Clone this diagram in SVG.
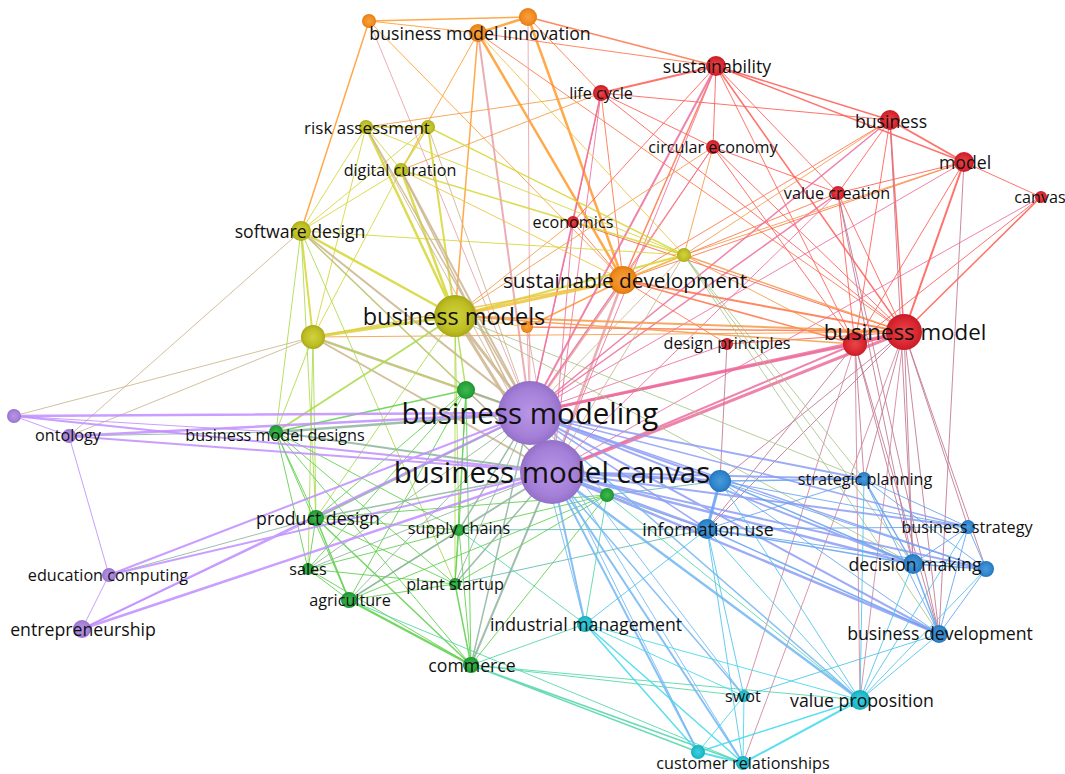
<svg xmlns="http://www.w3.org/2000/svg" width="1065" height="774" viewBox="0 0 1065 774">
<style>
  .e { fill: none; stroke-linecap: round; stroke-opacity: 0.85; }
  .o { stroke: #ff9a2a; } .ro { stroke: #ff7346; } .op { stroke: #e8a0a8; }
  .r { stroke: #ff5a52; } .rp { stroke: #ec6d9c; } .ry { stroke: #f59a45; }
  .rb { stroke: #c0768e; } .rc { stroke: #d0849a; }
  .y { stroke: #d6d635; } .yp { stroke: #cdb48e; } .yo { stroke: #efc23e; }
  .yg { stroke: #a9db4a; } .yb { stroke: #a9c48c; }
  .g { stroke: #5ccf48; } .gp { stroke: #8db49c; } .gc { stroke: #4fd6a6; } .gb { stroke: #5fb8b0; }
  .p { stroke: #bf8dff; } .bp { stroke: #8d9cf5; } .cp { stroke: #72b6f2; }
  .b { stroke: #62a2f0; } .bc { stroke: #4cc2ec; } .c { stroke: #3ed8ea; }
  .n circle { stroke: none; }
  text { font-family: "Open Sans", "DejaVu Sans", sans-serif; fill: #111; text-anchor: middle; dominant-baseline: central; }
  .t1 { font-size: 16.2px; } .t2 { font-size: 17.7px; } .t3 { font-size: 20.8px; }
  .t4 { font-size: 22.3px; } .t5 { font-size: 23.5px; } .t6 { font-size: 29.5px; }
</style>
<defs>
  <radialGradient id="gRed"><stop offset="0" stop-color="#e8464a"/><stop offset="0.75" stop-color="#d9252f"/><stop offset="1" stop-color="#c41d28"/></radialGradient>
  <radialGradient id="gOra"><stop offset="0" stop-color="#f9a040"/><stop offset="0.75" stop-color="#f08a1e"/><stop offset="1" stop-color="#de7a14"/></radialGradient>
  <radialGradient id="gOli"><stop offset="0" stop-color="#d2d240"/><stop offset="0.75" stop-color="#bdbd22"/><stop offset="1" stop-color="#a8a818"/></radialGradient>
  <radialGradient id="gGre"><stop offset="0" stop-color="#3fb84e"/><stop offset="0.75" stop-color="#26a23a"/><stop offset="1" stop-color="#1b8e2e"/></radialGradient>
  <radialGradient id="gPur"><stop offset="0" stop-color="#b896e6"/><stop offset="0.75" stop-color="#a47fd8"/><stop offset="1" stop-color="#9370c8"/></radialGradient>
  <radialGradient id="gBlu"><stop offset="0" stop-color="#4b9ad8"/><stop offset="0.75" stop-color="#2e84cc"/><stop offset="1" stop-color="#2474b8"/></radialGradient>
  <radialGradient id="gCya"><stop offset="0" stop-color="#40cede"/><stop offset="0.75" stop-color="#1dbccc"/><stop offset="1" stop-color="#15a8b8"/></radialGradient>
</defs>
<rect width="1065" height="774" fill="#ffffff"/>

<!-- links -->
<g id="connectors">
  <path class="e o" stroke-width="1" d="M369 21L478 33M369 21L623 280M478 33L401 170"/>
  <path class="e o" stroke-width="1.5" d="M369 21L528 17M369 21L301 231M478 33L455 316M623 280L527 327"/>
  <path class="e o" stroke-width="2.5" d="M528 17L478 33M528 17L623 280M478 33L623 280"/>
  <path class="e ro" stroke-width="1" d="M528 17L601 93M478 33L716 66M478 33L904 332M601 93L623 280M713 147L623 280M890 120L623 280M964 162L623 280M838 193L623 280M573 222L623 280M727 344L623 280"/>
  <path class="e ro" stroke-width="1.5" d="M528 17L716 66M716 66L623 280M855 344L623 280M527 327L904 332"/>
  <path class="e ro" stroke-width="2" d="M904 332L623 280"/>
  <path class="e op" stroke-width="1" d="M369 21L530 413M528 17L530 413M527 327L530 413M527 327L552 472"/>
  <path class="e op" stroke-width="2" d="M478 33L530 413"/>
  <path class="e op" stroke-width="2.5" d="M623 280L552 472"/>
  <path class="e op" stroke-width="3" d="M623 280L530 413"/>

  <path class="e r" stroke-width="1" d="M716 66L713 147M716 66L855 344M716 66L573 222M716 66L838 193M601 93L713 147M601 93L890 120M601 93L904 332M601 93L573 222M713 147L904 332M713 147L855 344M713 147L838 193M890 120L855 344M890 120L838 193M964 162L1041 197M964 162L855 344M964 162L838 193M1041 197L855 344M838 193L904 332M838 193L855 344M573 222L904 332M727 344L904 332"/>
  <path class="e r" stroke-width="1.5" d="M716 66L890 120M716 66L964 162M716 66L904 332M890 120L904 332M1041 197L904 332"/>
  <path class="e r" stroke-width="2" d="M716 66L601 93M890 120L964 162M964 162L904 332"/>
  <path class="e r" stroke-width="3" d="M904 332L855 344"/>
  <path class="e rp" stroke-width="1" d="M716 66L552 472M601 93L552 472M713 147L530 413M964 162L530 413M1041 197L552 472M573 222L530 413M573 222L552 472M727 344L530 413M838 193L552 472"/>
  <path class="e rp" stroke-width="1.5" d="M601 93L530 413M890 120L530 413M838 193L530 413"/>
  <path class="e rp" stroke-width="2" d="M716 66L530 413M855 344L552 472"/>
  <path class="e rp" stroke-width="2.5" d="M855 344L530 413"/>
  <path class="e rp" stroke-width="3" d="M904 332L530 413M904 332L552 472"/>
  <path class="e ry" stroke-width="1" d="M601 93L366 127M601 93L401 170M713 147L455 316M713 147L684 255M890 120L684 255M964 162L684 255M573 222L455 316M904 332L313 337M855 344L684 255"/>
  <path class="e ry" stroke-width="1.5" d="M855 344L455 316M904 332L684 255"/>
  <path class="e ry" stroke-width="2" d="M904 332L455 316"/>
  <path class="e rb" stroke-width="1" d="M727 344L720 481M904 332L864 479M904 332L913 564M904 332L939 634M904 332L968 527M904 332L986 569M904 332L707 529M904 332L720 481M855 344L913 564M855 344L939 634M855 344L707 529M855 344L864 479M838 193L939 634M838 193L913 564M890 120L913 564M964 162L939 634"/>
  <path class="e rc" stroke-width="1" d="M904 332L860 700M855 344L860 700M855 344L744 696M904 332L743 763"/>

  <path class="e y" stroke-width="1" d="M366 127L401 170M366 127L301 231M366 127L313 337M366 127L684 255M428 127L301 231M401 170L301 231M401 170L313 337M301 231L684 255"/>
  <path class="e y" stroke-width="1.5" d="M366 127L428 127M428 127L401 170M428 127L684 255M401 170L684 255"/>
  <path class="e y" stroke-width="2" d="M428 127L455 316M301 231L313 337M455 316L684 255"/>
  <path class="e y" stroke-width="2.5" d="M366 127L455 316M401 170L455 316M301 231L455 316"/>
  <path class="e y" stroke-width="3" d="M455 316L313 337"/>
  <path class="e yp" stroke-width="1" d="M428 127L530 413M366 127L552 472M301 231L69 436M313 337L14 416M313 337L69 436M684 255L530 413M684 255L552 472"/>
  <path class="e yp" stroke-width="1.5" d="M366 127L530 413M401 170L552 472M301 231L552 472"/>
  <path class="e yp" stroke-width="2" d="M401 170L530 413M301 231L530 413M313 337L552 472"/>
  <path class="e yp" stroke-width="2.5" d="M313 337L530 413"/>
  <path class="e yp" stroke-width="3" d="M455 316L530 413M455 316L552 472"/>
  <path class="e yo" stroke-width="1" d="M401 170L623 280M455 316L527 327M478 33L684 255"/>
  <path class="e yo" stroke-width="1.5" d="M313 337L623 280M684 255L623 280"/>
  <path class="e yo" stroke-width="3" d="M455 316L623 280"/>
  <path class="e yg" stroke-width="1" d="M301 231L276 432M301 231L316 518M301 231L455 584M455 316L316 518M455 316L459 530M455 316L455 584M313 337L276 432M313 337L316 518M313 337L466 390M313 337L308 569M301 231L466 390"/>
  <path class="e yg" stroke-width="1.5" d="M455 316L466 390"/>
  <path class="e yg" stroke-width="2" d="M276 432L455 316"/>
  <path class="e yb" stroke-width="1" d="M684 255L864 479M684 255L913 564M684 255L939 634M455 316L864 479M455 316L913 564"/>

  <path class="e g" stroke-width="1" d="M466 390L316 518M466 390L459 530M466 390L455 584M466 390L471 665M466 390L349 600M466 390L308 569M276 432L316 518M276 432L308 569M276 432L349 600M276 432L455 584M276 432L459 530M276 432L471 665M316 518L308 569M316 518L459 530M316 518L455 584M316 518L607 495M459 530L455 584M459 530L471 665M459 530L308 569M459 530L349 600M459 530L607 495M308 569L349 600M308 569L471 665M308 569L455 584M455 584L349 600M455 584L607 495M349 600L607 495M471 665L607 495"/>
  <path class="e g" stroke-width="1.5" d="M466 390L276 432M316 518L349 600M316 518L471 665M455 584L471 665"/>
  <path class="e g" stroke-width="2" d="M349 600L471 665"/>
  <path class="e gp" stroke-width="1" d="M466 390L552 472M276 432L69 436M316 518L109 575M308 569L530 413M308 569L552 472M455 584L530 413M349 600L530 413M607 495L552 472M607 495L530 413"/>
  <path class="e gp" stroke-width="1.5" d="M466 390L530 413M316 518L552 472M459 530L530 413M459 530L552 472M455 584L552 472M349 600L552 472M471 665L530 413"/>
  <path class="e gp" stroke-width="2" d="M276 432L552 472M316 518L530 413M471 665L552 472"/>
  <path class="e gp" stroke-width="2.5" d="M276 432L530 413"/>
  <path class="e gc" stroke-width="1" d="M459 530L585 624M471 665L585 624M471 665L860 700M607 495L585 624M607 495L860 700M471 665L744 696M349 600L743 763"/>
  <path class="e gc" stroke-width="1.5" d="M471 665L743 763M471 665L698 752"/>
  <path class="e gb" stroke-width="1" d="M459 530L707 529M455 584L707 529M607 495L707 529M607 495L720 481"/>

  <path class="e p" stroke-width="1" d="M14 416L69 436M69 436L109 575M109 575L82 629M82 629L316 518M14 416L276 432"/>
  <path class="e p" stroke-width="2" d="M109 575L530 413M109 575L552 472M82 629L530 413M14 416L552 472M69 436L552 472"/>
  <path class="e p" stroke-width="2.5" d="M14 416L530 413M69 436L530 413M82 629L552 472"/>
  <path class="e p" stroke-width="4" d="M530 413L552 472"/>
  <path class="e bp" stroke-width="1.5" d="M530 413L707 529M530 413L968 527M530 413L986 569"/>
  <path class="e bp" stroke-width="2" d="M530 413L720 481M530 413L864 479M530 413L913 564M530 413L939 634M552 472L864 479M552 472L968 527M552 472L986 569"/>
  <path class="e bp" stroke-width="2.5" d="M552 472L707 529M552 472L913 564M552 472L939 634"/>
  <path class="e bp" stroke-width="3" d="M552 472L720 481"/>
  <path class="e cp" stroke-width="1" d="M530 413L585 624M530 413L743 763M530 413L698 752M530 413L744 696"/>
  <path class="e cp" stroke-width="1.5" d="M530 413L860 700M552 472L744 696"/>
  <path class="e cp" stroke-width="2" d="M552 472L585 624M552 472L743 763M552 472L698 752"/>
  <path class="e cp" stroke-width="2.5" d="M552 472L860 700"/>

  <path class="e b" stroke-width="1" d="M720 481L968 527M720 481L939 634M720 481L986 569M864 479L707 529M864 479L968 527M864 479L986 569M864 479L939 634M707 529L968 527M707 529L986 569M968 527L913 564M968 527L986 569M968 527L939 634M986 569L939 634"/>
  <path class="e b" stroke-width="1.5" d="M720 481L864 479M720 481L913 564M864 479L913 564M707 529L913 564M707 529L939 634M913 564L986 569M913 564L939 634"/>
  <path class="e b" stroke-width="3" d="M720 481L707 529"/>
  <path class="e bc" stroke-width="1" d="M720 481L860 700M864 479L860 700M707 529L860 700M707 529L585 624M707 529L743 763M968 527L860 700M913 564L860 700M986 569L860 700M939 634L860 700M939 634L744 696M707 529L744 696"/>
  <path class="e c" stroke-width="1" d="M585 624L744 696M585 624L860 700M744 696L743 763M744 696L698 752"/>
  <path class="e c" stroke-width="1.5" d="M585 624L743 763M585 624L698 752M860 700L698 752"/>
  <path class="e c" stroke-width="2" d="M860 700L743 763M698 752L743 763"/>
</g>

<!-- items -->
<g class="n">
  <g id="n-o1"><circle cx="369" cy="21" r="7" fill="url(#gOra)"/></g>
  <g id="n-o2"><circle cx="528" cy="17" r="9" fill="url(#gOra)"/></g>
  <g id="n-o3"><circle cx="527" cy="327" r="6" fill="url(#gOra)"/></g>
  <g id="n-canvas"><circle cx="1041" cy="197" r="6" fill="url(#gRed)"/></g>
  <g id="n-economics"><circle cx="573" cy="222" r="6" fill="url(#gRed)"/></g>
  <g id="n-design-principles"><circle cx="727" cy="344" r="6" fill="url(#gRed)"/></g>
  <g id="n-circular-economy"><circle cx="713" cy="147" r="7" fill="url(#gRed)"/></g>
  <g id="n-value-creation"><circle cx="838" cy="193" r="7" fill="url(#gRed)"/></g>
  <g id="n-life-cycle"><circle cx="601" cy="93" r="8" fill="url(#gRed)"/></g>
  <g id="n-sustainability"><circle cx="716" cy="66" r="10" fill="url(#gRed)"/></g>
  <g id="n-business"><circle cx="890" cy="120" r="10" fill="url(#gRed)"/></g>
  <g id="n-model"><circle cx="964" cy="162" r="10" fill="url(#gRed)"/></g>
  <g id="n-r2"><circle cx="855" cy="344" r="12" fill="url(#gRed)"/></g>
  <g id="n-business-model"><circle cx="904" cy="332" r="18" fill="url(#gRed)"/></g>
  <g id="n-risk-assessment"><circle cx="366" cy="127" r="7" fill="url(#gOli)"/></g>
  <g id="n-y1"><circle cx="428" cy="127" r="7" fill="url(#gOli)"/></g>
  <g id="n-digital-curation"><circle cx="401" cy="170" r="7" fill="url(#gOli)"/></g>
  <g id="n-y3"><circle cx="684" cy="255" r="7" fill="url(#gOli)"/></g>
  <g id="n-software-design"><circle cx="301" cy="231" r="10" fill="url(#gOli)"/></g>
  <g id="n-y2"><circle cx="313" cy="337" r="12" fill="url(#gOli)"/></g>
  <g id="n-business-model-innovation"><circle cx="478" cy="33" r="9" fill="url(#gOra)"/></g>
  <g id="n-sustainable-development"><circle cx="623" cy="280" r="14" fill="url(#gOra)"/></g>
  <g id="n-business-models"><circle cx="455" cy="316" r="21" fill="url(#gOli)"/></g>
  <g id="n-g1"><circle cx="466" cy="390" r="9" fill="url(#gGre)"/></g>
  <g id="n-business-model-designs"><circle cx="276" cy="432" r="7" fill="url(#gGre)"/></g>
  <g id="n-product-design"><circle cx="316" cy="518" r="8" fill="url(#gGre)"/></g>
  <g id="n-supply-chains"><circle cx="459" cy="530" r="6" fill="url(#gGre)"/></g>
  <g id="n-sales"><circle cx="308" cy="569" r="6" fill="url(#gGre)"/></g>
  <g id="n-plant-startup"><circle cx="455" cy="584" r="6" fill="url(#gGre)"/></g>
  <g id="n-agriculture"><circle cx="349" cy="600" r="8" fill="url(#gGre)"/></g>
  <g id="n-commerce"><circle cx="471" cy="665" r="8" fill="url(#gGre)"/></g>
  <g id="n-g2"><circle cx="607" cy="495" r="7" fill="url(#gGre)"/></g>
  <g id="n-p1"><circle cx="14" cy="416" r="7" fill="url(#gPur)"/></g>
  <g id="n-ontology"><circle cx="69" cy="436" r="7" fill="url(#gPur)"/></g>
  <g id="n-education-computing"><circle cx="109" cy="575" r="7" fill="url(#gPur)"/></g>
  <g id="n-entrepreneurship"><circle cx="82" cy="629" r="9" fill="url(#gPur)"/></g>
  <g id="n-strategic-planning"><circle cx="864" cy="479" r="7" fill="url(#gBlu)"/></g>
  <g id="n-business-strategy"><circle cx="968" cy="527" r="7" fill="url(#gBlu)"/></g>
  <g id="n-b2"><circle cx="986" cy="569" r="8" fill="url(#gBlu)"/></g>
  <g id="n-business-development"><circle cx="939" cy="634" r="9" fill="url(#gBlu)"/></g>
  <g id="n-decision-making"><circle cx="913" cy="564" r="10" fill="url(#gBlu)"/></g>
  <g id="n-information-use"><circle cx="707" cy="529" r="10" fill="url(#gBlu)"/></g>
  <g id="n-b1"><circle cx="720" cy="481" r="11" fill="url(#gBlu)"/></g>
  <g id="n-industrial-management"><circle cx="585" cy="624" r="8" fill="url(#gCya)"/></g>
  <g id="n-swot"><circle cx="744" cy="696" r="6" fill="url(#gCya)"/></g>
  <g id="n-value-proposition"><circle cx="860" cy="700" r="10" fill="url(#gCya)"/></g>
  <g id="n-c1"><circle cx="698" cy="752" r="7" fill="url(#gCya)"/></g>
  <g id="n-customer-relationships"><circle cx="743" cy="763" r="7" fill="url(#gCya)"/></g>
  <g id="n-business-modeling"><circle cx="530" cy="413" r="32" fill="url(#gPur)"/></g>
  <g id="n-business-model-canvas"><circle cx="552" cy="472" r="32" fill="url(#gPur)"/></g>
</g>

<!-- labels -->
<g id="labels">
  <text class="t2" x="480" y="33">business model innovation</text>
  <text class="t2" x="717" y="66">sustainability</text>
  <text class="t1" x="601" y="93">life cycle</text>
  <text class="t1" x="367" y="127" style="font-size:17px">risk assessment</text>
  <text class="t1" x="400" y="170">digital curation</text>
  <text class="t1" x="713" y="147">circular economy</text>
  <text class="t2" x="891" y="121">business</text>
  <text class="t2" x="965" y="162">model</text>
  <text class="t1" x="837" y="193">value creation</text>
  <text class="t1" x="1040" y="197">canvas</text>
  <text class="t1" x="573" y="222">economics</text>
  <text class="t3" x="625" y="280">sustainable development</text>
  <text class="t1" x="727" y="343">design principles</text>
  <text class="t4" x="905" y="331">business model</text>
  <text class="t5" x="454" y="316">business models</text>
  <text class="t2" x="300" y="231">software design</text>
  <text class="t1" x="68" y="435">ontology</text>
  <text class="t1" x="275" y="435">business model designs</text>
  <text class="t6" x="530" y="412">business modeling</text>
  <text class="t6" x="552" y="471">business model canvas</text>
  <text class="t2" x="318" y="518">product design</text>
  <text class="t1" x="459" y="528">supply chains</text>
  <text class="t1" x="108" y="575">education computing</text>
  <text class="t2" x="83" y="629">entrepreneurship</text>
  <text class="t1" x="308" y="569">sales</text>
  <text class="t1" x="455" y="584">plant startup</text>
  <text class="t1" x="350" y="600">agriculture</text>
  <text class="t2" x="472" y="665">commerce</text>
  <text class="t2" x="586" y="624">industrial management</text>
  <text class="t1" x="865" y="479">strategic planning</text>
  <text class="t2" x="708" y="529">information use</text>
  <text class="t1" x="967" y="527">business strategy</text>
  <text class="t2" x="915" y="564">decision making</text>
  <text class="t2" x="940" y="633">business development</text>
  <text class="t1" x="743" y="696">swot</text>
  <text class="t2" x="862" y="700">value proposition</text>
  <text class="t1" x="743" y="763">customer relationships</text>
</g>
</svg>
